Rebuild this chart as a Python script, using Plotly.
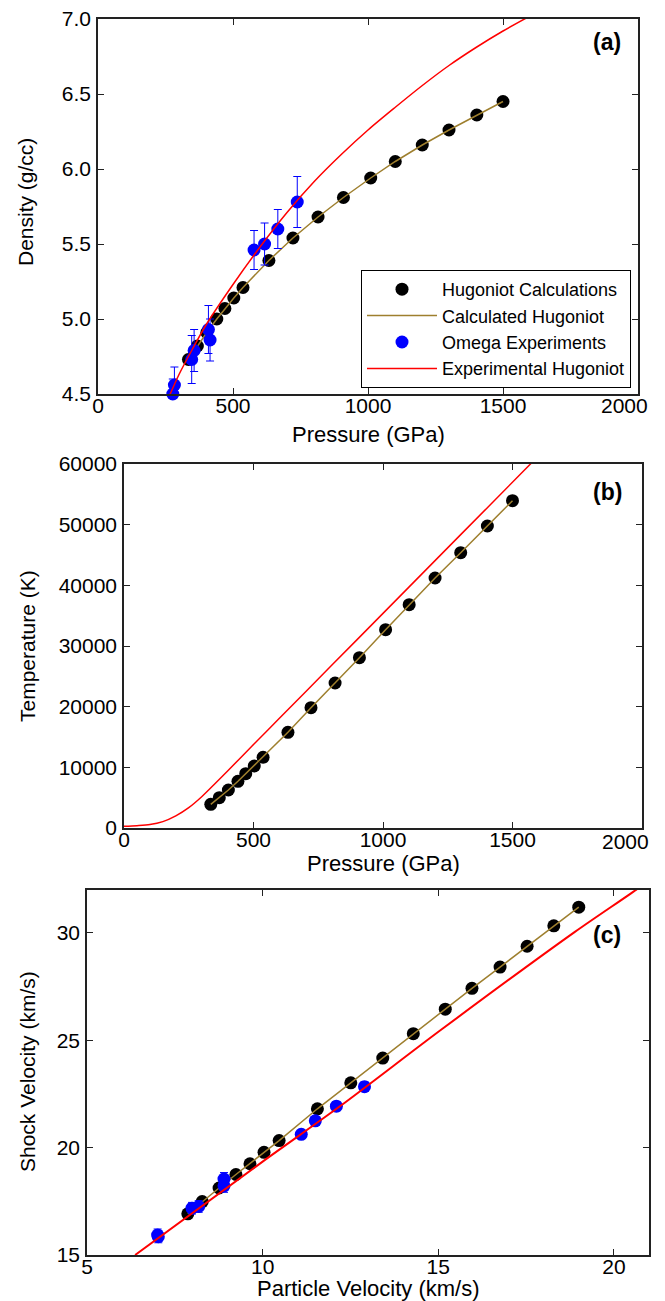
import plotly.graph_objects as go

# ---------------- data ----------------
# Hugoniot calculations (black dots + calculated line)
P_calc = [335, 368, 403, 440, 470, 503, 537, 633, 722, 815, 909, 1010, 1101, 1201, 1300, 1403, 1500]
rho_calc = [4.73, 4.82, 4.91, 5.00, 5.07, 5.14, 5.21, 5.39, 5.54, 5.68, 5.81, 5.94, 6.05, 6.16, 6.26, 6.36, 6.45]
T_calc = [3900, 5000, 6260, 7700, 8950, 10220, 11650, 15770, 19830, 23900, 28070, 32690, 36810, 41210, 45380, 49780, 53950]
up_calc = [7.87, 8.28, 8.76, 9.24, 9.64, 10.04, 10.47, 11.56, 12.51, 13.42, 14.29, 15.20, 15.96, 16.76, 17.53, 18.29, 19.00]
Us_calc = [16.92, 17.49, 18.12, 18.75, 19.25, 19.78, 20.33, 21.81, 23.02, 24.17, 25.31, 26.45, 27.42, 28.41, 29.38, 30.33, 31.20]

# Omega experiments
P_exp = [277, 283, 347, 356, 409, 415, 578, 617, 666, 738]
rho_exp = [4.50, 4.56, 4.73, 4.79, 4.93, 4.86, 5.46, 5.50, 5.60, 5.78]
rho_err = [0.10, 0.12, 0.16, 0.14, 0.16, 0.14, 0.13, 0.14, 0.13, 0.17]
up_exp = [7.01, 7.03, 7.99, 8.18, 8.90, 8.90, 11.10, 11.50, 12.10, 12.90]
Us_exp = [15.93, 15.85, 17.18, 17.26, 18.54, 18.22, 20.62, 21.25, 21.93, 22.84]
Us_err = [0.28, 0.28, 0.27, 0.27, 0.30, 0.30, 0.15, 0.20, 0.22, 0.22]

# Experimental Hugoniot (red curves)
P_fit_a = [265, 300, 350, 400, 500, 600, 700, 800, 900, 1000, 1100, 1200, 1300, 1400, 1500, 1600]
rho_fit_a = [4.49, 4.63, 4.80, 4.96, 5.23, 5.48, 5.71, 5.915, 6.095, 6.26, 6.41, 6.555, 6.69, 6.81, 6.92, 7.02]
P_fit_b = [0, 50, 100, 150, 200, 250, 300, 350, 400, 500, 600, 800, 1000, 1200, 1400, 1600]
T_fit_b = [280, 380, 560, 1050, 2000, 3350, 5150, 7250, 9400, 13750, 18080, 26730, 35380, 44030, 52680, 61330]
up_fit_c = [6.37, 10.00, 12.23, 15.09, 18.89, 20.64, 21.20]
Us_fit_c = [15.00, 19.35, 21.96, 25.50, 30.05, 32.02, 32.70]

# tick labels (the last pressure label is drawn as a right-aligned annotation, as in the original)
p_ticks = [0, 500, 1000, 1500, 2000]
p_ticktext = ["0", "500", "1000", "1500", ""]
p_last_label = "2000"
rho_ticks = [4.5, 5.0, 5.5, 6.0, 6.5, 7.0]
T_ticks = [0, 10000, 20000, 30000, 40000, 50000, 60000]
up_ticks = [5, 10, 15, 20]
Us_ticks = [15, 20, 25, 30]

# ---------------- style ----------------
W, H = 665, 1301
FONT = "Liberation Sans, Arial, sans-serif"
OLIVE = "#9e7f2e"
BLUE = "#0000ff"
RED = "#ff0000"
MS = 13
TICK_SIZE = 21

fig = go.Figure()

def add_panel(xa, ya, xc, yc, xe, ye, yerr, xf, yf, legend, red_w):
    fig.add_trace(go.Scatter(x=xc, y=yc, mode="markers", name="Hugoniot Calculations",
                             marker=dict(color="black", size=MS), xaxis=xa, yaxis=ya,
                             showlegend=legend, cliponaxis=False))
    fig.add_trace(go.Scatter(x=xc, y=yc, mode="lines", name="Calculated Hugoniot",
                             line=dict(color=OLIVE, width=1.5), xaxis=xa, yaxis=ya,
                             showlegend=legend))
    if xe is not None:
        fig.add_trace(go.Scatter(x=xe, y=ye, mode="markers", name="Omega Experiments",
                                 marker=dict(color=BLUE, size=MS),
                                 error_y=dict(type="data", array=yerr, color=BLUE,
                                              thickness=1, width=4),
                                 xaxis=xa, yaxis=ya, showlegend=legend, cliponaxis=False))
    fig.add_trace(go.Scatter(x=xf, y=yf, mode="lines", name="Experimental Hugoniot",
                             line=dict(color=RED, width=red_w, shape="spline", smoothing=0.8),
                             xaxis=xa, yaxis=ya, showlegend=legend))

add_panel("x", "y", P_calc, rho_calc, P_exp, rho_exp, rho_err, P_fit_a, rho_fit_a, True, 1.5)
add_panel("x2", "y2", P_calc, T_calc, None, None, None, P_fit_b, T_fit_b, False, 1.5)
add_panel("x3", "y3", up_calc, Us_calc, up_exp, Us_exp, Us_err, up_fit_c, Us_fit_c, False, 2)

def px_x(a, b):
    return [a / W, b / W]

def px_y(top, bot):
    return [1 - bot / H, 1 - top / H]

axis_common = dict(showline=True, linecolor="#222", linewidth=1.5, mirror="ticks",
                   ticks="inside", ticklen=6, tickwidth=1, tickcolor="#222",
                   showgrid=False, zeroline=False, automargin=False,
                   tickfont=dict(family=FONT, size=TICK_SIZE, color="black"))
xstand = dict(ticklabelstandoff=-8)
ystand = dict(ticklabelstandoff=1)

fig.update_layout(
    template="none",
    xaxis=dict(domain=px_x(98, 638), range=[0, 2000], tickvals=p_ticks, ticktext=p_ticktext,
               anchor="y", **xstand, **axis_common),
    yaxis=dict(domain=px_y(19, 394), range=[4.5, 7.0], tickvals=rho_ticks,
               tickformat=".1f", anchor="x", **ystand, **axis_common),
    xaxis2=dict(domain=px_x(124, 642), range=[0, 2000], tickvals=p_ticks, ticktext=p_ticktext,
                anchor="y2", **xstand, **axis_common),
    yaxis2=dict(domain=px_y(464, 828), range=[0, 60000], tickvals=T_ticks,
                tickformat="d", anchor="x2", **ystand, **axis_common),
    xaxis3=dict(domain=px_x(87, 649), range=[5, 21], tickvals=up_ticks,
                anchor="y3", **xstand, **axis_common),
    yaxis3=dict(domain=px_y(890, 1255), range=[15, 32], tickvals=Us_ticks,
                anchor="x3", **ystand, **axis_common),
)

annotations = [
    dict(text="<b>(a)</b>", x=607 / W, y=1 - 42 / H),
    dict(text="<b>(b)</b>", x=607 / W, y=1 - 492 / H),
    dict(text="<b>(c)</b>", x=607 / W, y=1 - 935 / H),
]
for a in annotations:
    a.update(xref="paper", yref="paper", showarrow=False, xanchor="center", yanchor="middle",
             font=dict(family=FONT, size=23, color="black"))

# last tick label of the pressure axes, pushed inside the figure edge
for xpx, ypx in [(650, 406), (651, 841)]:
    annotations.append(dict(text=p_last_label, x=xpx / W, y=1 - ypx / H, xref="paper",
                            yref="paper", showarrow=False, xanchor="right", yanchor="middle",
                            font=dict(family=FONT, size=TICK_SIZE, color="black")))

titles = [
    dict(text="Pressure (GPa)", x=368 / W, y=1 - 434 / H, textangle=0, size=22),
    dict(text="Pressure (GPa)", x=383 / W, y=1 - 863 / H, textangle=0, size=22),
    dict(text="Particle Velocity (km/s)", x=368 / W, y=1 - 1288 / H, textangle=0, size=22),
    dict(text="Density (g/cc)", x=26 / W, y=1 - 202 / H, textangle=-90, size=21),
    dict(text="Temperature (K)", x=27 / W, y=1 - 646 / H, textangle=-90, size=21),
    dict(text="Shock Velocity (km/s)", x=27 / W, y=1 - 1072 / H, textangle=-90, size=21),
]
for t in titles:
    s = t.pop("size")
    t.update(xref="paper", yref="paper", showarrow=False, xanchor="center", yanchor="middle",
             font=dict(family=FONT, size=s, color="black"))
    annotations.append(t)

fig.update_layout(
    annotations=annotations,
    width=W, height=H,
    margin=dict(l=0, r=0, t=0, b=0, pad=0),
    paper_bgcolor="white", plot_bgcolor="white",
    font=dict(family=FONT, color="black"),
    legend=dict(x=631 / W, y=1 - 388 / H, xanchor="right", yanchor="bottom",
                bgcolor="white", bordercolor="black", borderwidth=1,
                font=dict(family=FONT, size=18, color="black"),
                tracegroupgap=0, itemwidth=70),
    showlegend=True,
)

fig.write_html("out.html", config={"displayModeBar": False},
               post_script="document.body.style.margin='0';document.body.style.overflow='hidden';")
